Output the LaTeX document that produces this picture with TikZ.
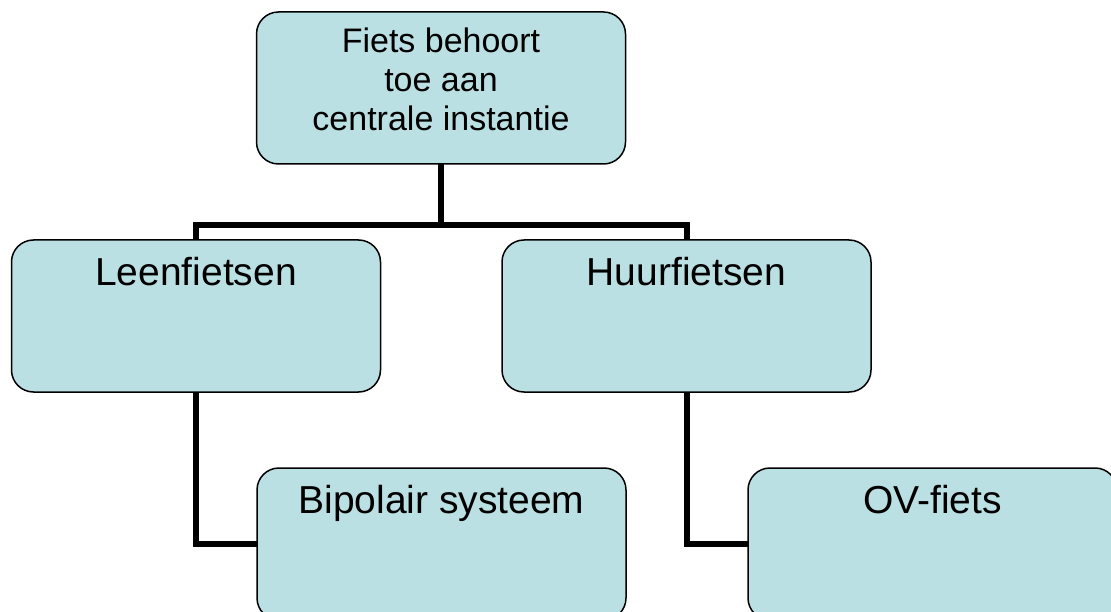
\documentclass[tikz,border=0pt]{standalone}
\usepackage{fontspec}
\setmainfont{Liberation Sans}
\usetikzlibrary{backgrounds}
\definecolor{boxfill}{HTML}{BBE0E3}
\begin{document}
\begin{tikzpicture}[x=1pt,y=-1pt,
  box/.style={draw=black,line width=1.5pt,fill=boxfill,rounded corners=22pt,
    minimum width=369pt,minimum height=152pt,inner sep=0pt,outer sep=0pt},
  conn/.style={line width=6pt,draw=black},
  bigtxt/.style={inner sep=0pt,font=\fontsize{39}{46}\selectfont,anchor=base},
  toptxt/.style={inner sep=0pt,align=center,font=\fontsize{34}{39}\selectfont}]
\useasboundingbox (0,0) rectangle (1111,612);
\clip (0,0) rectangle (1111,612);
\coordinate (j) at (441,225);
\node[box] (top) at (441,88) {};
\node[box] (leen) at (196,316) {};
\node[box] (huur) at (686.5,316) {};
\node[box] (bip) at (441.5,544) {};
\node[box] (ov) at (932.5,544) {};
\begin{pgfonlayer}{background}
\fill[white] (0,0) rectangle (1111,612);
\draw[conn] (top.south) -- (j);
\draw[conn] (leen.north) |- (j) -| (huur.north);
\draw[conn] (leen.south) |- (bip.west);
\draw[conn] (huur.south) |- (ov.west);
\end{pgfonlayer}
\node[toptxt] (toplbl) at (441,79) {Fiets behoort\\toe aan\\centrale instantie};
\node[bigtxt] (leenlbl) at (196,286) {Leenfietsen};
\node[bigtxt] (huurlbl) at (686.5,286) {Huurfietsen};
\node[bigtxt] (biplbl) at (441.5,513) {Bipolair systeem};
\node[bigtxt] (ovlbl) at (932.5,513) {OV-fiets};
\end{tikzpicture}
\end{document}
